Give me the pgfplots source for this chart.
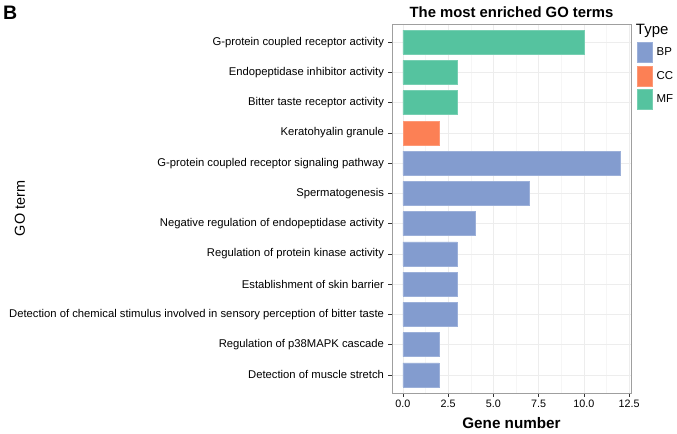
\documentclass[border=0pt]{standalone}
\usepackage{pgfplots}
\pgfplotsset{compat=1.18}
\usepackage{fontspec}
\setmainfont{Liberation Sans}
\definecolor{bp}{HTML}{839CCF}
\definecolor{cc}{HTML}{FC8055}
\definecolor{mf}{HTML}{55C39F}
\begin{document}
\begin{tikzpicture}
\path[use as bounding box] (0,0) rectangle (677bp,434bp);
\node[anchor=north west,font=\fontsize{19.6}{20}\selectfont\bfseries,inner sep=0pt] at (3bp,428bp) {B};
\begin{axis}[
  at={(392bp,41bp)}, anchor=south west,
  scale only axis, width=239bp, height=369bp,
  clip=false,
  xmin=-0.6, xmax=12.6, ymin=0.4, ymax=12.6, y dir=reverse,
  xbar, bar width=0.8, bar shift=0pt,
  axis line style={draw=gray!75, line width=0.8bp},
  tick align=outside, major tick length=3.5bp,
  xtick pos=left, ytick pos=left,
  tick style={black!80, line width=0.7bp},
  xtick={0,2.5,5,7.5,10,12.5},
  minor xtick={1.25,3.75,6.25,8.75,11.25},
  minor tick length=0pt,
  /pgf/number format/assume math mode=true,
  ytick={1,...,12},
  yticklabels={G-protein coupled receptor activity,
    Endopeptidase inhibitor activity,
    Bitter taste receptor activity,
    Keratohyalin granule,
    G-protein coupled receptor signaling pathway,
    Spermatogenesis,
    Negative regulation of endopeptidase activity,
    Regulation of protein kinase activity,
    Establishment of skin barrier,
    Detection of chemical stimulus involved in sensory perception of bitter taste,
    Regulation of p38MAPK cascade,
    Detection of muscle stretch},
  xticklabel style={font=\fontsize{10.8}{12}\selectfont, black,
    /pgf/number format/fixed, /pgf/number format/fixed zerofill,
    /pgf/number format/precision=1, /pgf/number format/assume math mode=true},
  yticklabel style={font=\fontsize{11.3}{13}\selectfont, black, xshift=-1bp},
  xmajorgrids, ymajorgrids, xminorgrids,
  major grid style={gray!14, line width=0.4bp},
  minor grid style={gray!7, line width=0.3bp},
  xlabel={Gene number},
  xlabel style={at={(axis description cs:0.5,-0.0813)}, anchor=center, yshift=0pt, font=\fontsize{15.3}{16}\selectfont\bfseries},
  ylabel={GO term},
  ylabel style={at={(axis description cs:-1.557,0.5)}, anchor=center, font=\fontsize{14.5}{15}\selectfont},
  every axis title shift=0pt,
  title={The most enriched GO terms},
  title style={at={(axis description cs:0.5,1.0325)}, anchor=center, yshift=0pt, font=\fontsize{14.9}{15}\selectfont\bfseries},
  legend style={at={(axis description cs:1.025,0.951)}, anchor=north west, draw=none, fill=none,
    inner sep=0pt, row sep=3bp, column sep=2bp, font=\fontsize{11.5}{12}\selectfont},
  legend cell align=left,
  legend image code/.code={\fill[#1] (0bp,-10bp) rectangle (15bp,10bp);},
]
\addplot[fill=bp, draw=bp!80!white, line width=0.5bp] coordinates {(12,5) (7,6) (4,7) (3,8) (3,9) (3,10) (2,11) (2,12)};
\addlegendentry{BP}
\addplot[fill=cc, draw=cc!80!white, line width=0.5bp] coordinates {(2,4)};
\addlegendentry{CC}
\addplot[fill=mf, draw=mf!80!white, line width=0.5bp] coordinates {(10,1) (3,2) (3,3)};
\addlegendentry{MF}
\node[anchor=west, inner sep=0pt, font=\fontsize{15}{15}\selectfont] at (rel axis cs:1.02,0.981) {Type};
\end{axis}
\end{tikzpicture}
\end{document}
